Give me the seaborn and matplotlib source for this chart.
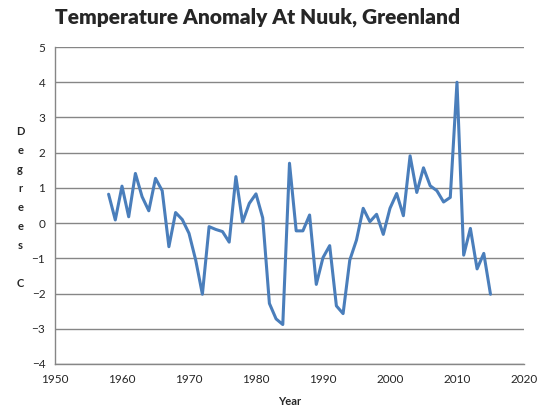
import pandas as pd
import seaborn as sns
import matplotlib.pyplot as plt

# yearly anomaly
years = list(range(1958, 2016))
anomaly = [0.82, 0.09, 1.05, 0.18, 1.41, 0.75, 0.35, 1.27, 0.92, -0.67,
           0.30, 0.10, -0.29, -1.05, -2.02, -0.10, -0.18, -0.24, -0.54, 1.32,
           0.03, 0.56, 0.83, 0.15, -2.28, -2.72, -2.88, 1.70, -0.22, -0.22,
           0.23, -1.74, -0.98, -0.64, -2.35, -2.57, -1.05, -0.48, 0.42, 0.04,
           0.25, -0.32, 0.42, 0.84, 0.21, 1.91, 0.87, 1.57, 1.06, 0.92,
           0.60, 0.73, 4.00, -0.91, -0.15, -1.30, -0.86, -2.02]
x_ticks = list(range(1950, 2021, 10))
y_ticks = list(range(-4, 6))

df = pd.DataFrame({'Year': years, 'Anomaly': anomaly})

sns.set_style("white")
plt.rcParams['font.family'] = ['Lato', 'DejaVu Sans']

fig = plt.figure(figsize=(5.44, 4.19), dpi=100)
ax = fig.add_axes([0.1011, 0.1313, 0.8621, 0.7565])

sns.lineplot(data=df, x='Year', y='Anomaly', ax=ax, color='#4a7ebb', linewidth=2.2)

ax.set_xlim(1950, 2020)
ax.set_ylim(-4, 5)
ax.set_xticks(x_ticks)
ax.set_yticks(y_ticks)
ax.grid(axis='y', color='#868686', linewidth=1)
ax.set_axisbelow(True)
for side in ['top', 'right']:
    ax.spines[side].set_visible(False)
for side in ['left', 'bottom']:
    ax.spines[side].set_color('#868686')
    ax.spines[side].set_linewidth(1)
ax.tick_params(axis='both', direction='out', length=4, width=1, color='#868686',
               labelsize=8.5, pad=3)

ax.set_xlabel('Year', fontsize=8, fontweight='bold', labelpad=8)
ax.set_ylabel('')
# stacked letters for the y label, as in the original
fig.text(0.037, 0.505, 'D\ne\ng\nr\ne\ne\ns\n\nC', fontsize=8, fontweight='bold',
         ha='center', va='center', linespacing=1.9)

fig.text(0.474, 0.958, 'Temperature Anomaly At Nuuk, Greenland', fontsize=15,
         fontweight='heavy', ha='center', va='center')

fig.savefig('out.png', dpi=100)
